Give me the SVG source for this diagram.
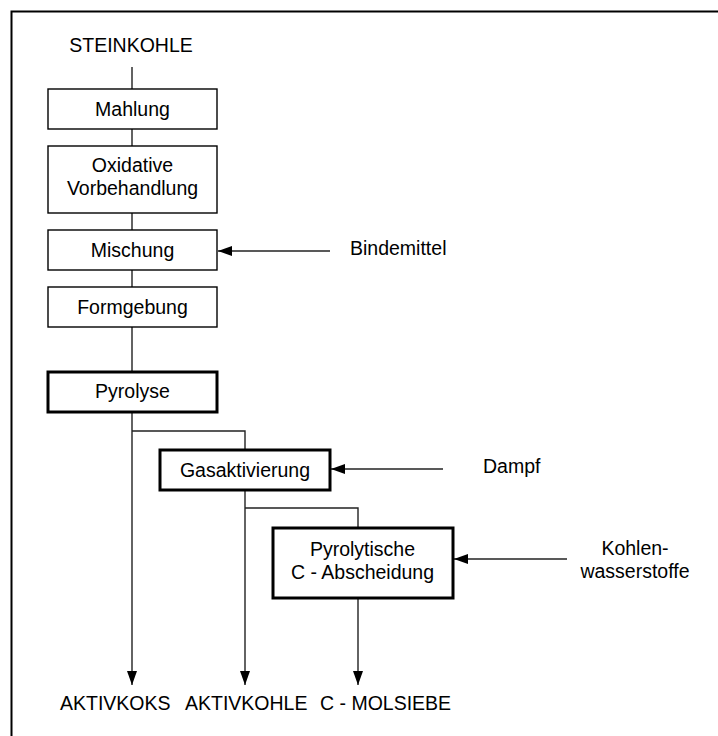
<svg xmlns="http://www.w3.org/2000/svg" width="718" height="736" viewBox="0 0 718 736">
<style>
text{font-family:"Liberation Sans",Arial,sans-serif;font-size:19.5px;fill:#000}
.c{text-anchor:middle}
.box{fill:#fff;stroke:#000;stroke-width:1.4}
.thick{fill:#fff;stroke:#000;stroke-width:3}
.ln{fill:none;stroke:#222;stroke-width:1.4}
</style>
<defs>
<marker id="ah" markerWidth="14" markerHeight="10" refX="14" refY="5" orient="auto" markerUnits="userSpaceOnUse">
<path d="M0,0 L14,5 L0,10 Z" fill="#000"/>
</marker>
</defs>
<rect width="718" height="736" fill="#fff"/>
<path d="M11.5,740 V11.5 H722" fill="none" stroke="#000" stroke-width="2"/>
<text x="131" y="52" class="c">STEINKOHLE</text>
<g id="connectors">
<path class="ln" d="M132,67 V89 M132,129 V146 M132,213 V230 M132,270 V287 M132,327 V371"/>
<path class="ln" d="M132,412 V685" marker-end="url(#ah)"/>
<path class="ln" d="M132,431 H245 V450"/>
<path class="ln" d="M245,490 V685" marker-end="url(#ah)"/>
<path class="ln" d="M245,508 H358 V528"/>
<path class="ln" d="M358,598 V685" marker-end="url(#ah)"/>
<path class="ln" d="M330,251 H218" marker-end="url(#ah)"/>
<path class="ln" d="M443,469 H331" marker-end="url(#ah)"/>
<path class="ln" d="M567,559 H454" marker-end="url(#ah)"/>
</g>
<g id="mahlung"><rect class="box" x="48" y="89" width="169" height="40"/><text x="132.5" y="116" class="c">Mahlung</text></g>
<g id="oxidative"><rect class="box" x="48" y="146" width="169" height="67"/><text x="132.5" y="172" class="c">Oxidative</text><text x="132.5" y="195" class="c">Vorbehandlung</text></g>
<g id="mischung"><rect class="box" x="48" y="230" width="169" height="40"/><text x="132.5" y="257" class="c">Mischung</text></g>
<g id="formgebung"><rect class="box" x="48" y="287" width="169" height="40"/><text x="132.5" y="314" class="c">Formgebung</text></g>
<g id="pyrolyse"><rect class="thick" x="48" y="372" width="169" height="40"/><text x="132.5" y="398" class="c">Pyrolyse</text></g>
<g id="gasaktivierung"><rect class="thick" x="160" y="450" width="170" height="40"/><text x="245" y="477" class="c">Gasaktivierung</text></g>
<g id="pyrolytische"><rect class="thick" x="273" y="528" width="180" height="70"/><text x="362.5" y="556" class="c">Pyrolytische</text><text x="362.5" y="579" class="c">C - Abscheidung</text></g>
<g id="bindemittel"><text x="350" y="255">Bindemittel</text></g>
<g id="dampf"><text x="483" y="473">Dampf</text></g>
<g id="kohlenwasserstoffe"><text x="635" y="555" class="c">Kohlen-</text><text x="635" y="578" class="c">wasserstoffe</text></g>
<g id="aktivkoks"><text x="60" y="710">AKTIVKOKS</text></g>
<g id="aktivkohle"><text x="185" y="710">AKTIVKOHLE</text></g>
<g id="molsiebe"><text x="320" y="710">C - MOLSIEBE</text></g>
</svg>
